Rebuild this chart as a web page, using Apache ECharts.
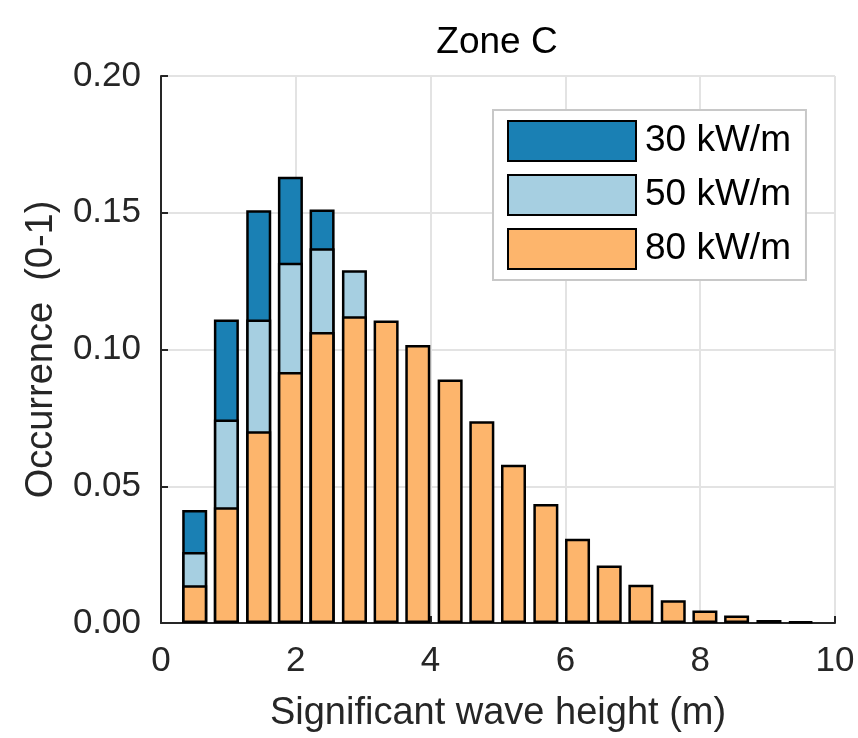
<!DOCTYPE html>
<html>
<head>
<meta charset="utf-8">
<script src="https://cdn.jsdelivr.net/npm/echarts@6/dist/echarts.min.js"></script>
<style>html,body{margin:0;padding:0;background:#fff}#c{width:858px;height:738px}</style>
</head>
<body>
<div id="c"></div>
<script>
// Bin centres of significant wave height (m)
var binCenters = [0.50, 0.97, 1.45, 1.92, 2.39, 2.87, 3.34, 3.81, 4.29, 4.76, 5.23, 5.71, 6.18, 6.65, 7.12, 7.60, 8.07, 8.54, 9.02, 9.49];
// Occurrence (0-1)
var occ30 = [0.0413, 0.1110, 0.1509, 0.1632, 0.1512, null, null, null, null, null, null, null, null, null, null, null, null, null, null, null];
var occ50 = [0.0260, 0.0744, 0.1110, 0.1317, 0.1370, 0.1290, null, null, null, null, null, null, null, null, null, null, null, null, null, null];
var occ80 = [0.0138, 0.0423, 0.0701, 0.0918, 0.1064, 0.1122, 0.1106, 0.1016, 0.0890, 0.0738, 0.0579, 0.0435, 0.0308, 0.0210, 0.0140, 0.0083, 0.0046, 0.0027, 0.0011, 0.0005];
var seriesNames = ['30 kW/m', '50 kW/m', '80 kW/m'];
var xTicks = [0, 2, 4, 6, 8, 10];
var yTicks = [0, 0.05, 0.10, 0.15, 0.20];

function pairs(vals) {
  return binCenters.map(function (x, i) { return [x, vals[i]]; });
}
var colors = ['#1a80b4', '#a6cfe1', '#fdb56c'];
var font = 'Liberation Sans, Arial, Helvetica, sans-serif';
var chart = echarts.init(document.getElementById('c'), null, {renderer: 'canvas'});
var barStyle = function (c) {
  return {color: c, borderColor: '#000', borderWidth: 2.5};
};
chart.setOption({
  animation: false,
  backgroundColor: '#fff',
  title: {
    text: 'Zone C', left: 497, top: 24, textAlign: 'center', padding: 0,
    textStyle: {fontFamily: font, fontSize: 37, fontWeight: 'normal', color: '#000'}
  },
  legend: {
    orient: 'vertical', left: 493, top: 110,
    itemWidth: 128, itemHeight: 40, itemGap: 12,
    padding: [10, 15, 10, 14],
    borderColor: '#c8c8c8', borderWidth: 2, backgroundColor: '#fff',
    data: seriesNames,
    textStyle: {fontFamily: font, fontSize: 37, color: '#000', padding: [0, 0, 0, 4]},
    icon: 'rect'
  },
  grid: {left: 161, right: 23, top: 76, bottom: 113, containLabel: false},
  xAxis: {
    type: 'value', min: xTicks[0], max: xTicks[xTicks.length - 1], interval: 2,
    name: 'Significant wave height (m)', nameLocation: 'middle', nameGap: 72,
    nameTextStyle: {fontFamily: font, fontSize: 38, color: '#262626'},
    axisLine: {show: true, onZero: false, lineStyle: {color: '#262626', width: 2}},
    axisTick: {show: true, inside: true, length: 7, lineStyle: {color: '#262626', width: 2}},
    axisLabel: {fontFamily: font, fontSize: 35, color: '#262626', margin: 21},
    splitLine: {show: true, lineStyle: {color: '#e3e3e3', width: 2}}
  },
  yAxis: {
    type: 'value', min: yTicks[0], max: yTicks[yTicks.length - 1], interval: 0.05,
    name: 'Occurrence  (0-1)', nameLocation: 'middle', nameGap: 100,
    nameTextStyle: {fontFamily: font, fontSize: 38, color: '#262626'},
    axisLine: {show: true, lineStyle: {color: '#262626', width: 2}},
    axisTick: {show: true, inside: true, length: 7, lineStyle: {color: '#262626', width: 2}},
    axisLabel: {fontFamily: font, fontSize: 35, color: '#262626', margin: 20,
      formatter: function (v) { return v.toFixed(2); }},
    splitLine: {show: true, lineStyle: {color: '#e3e3e3', width: 2}}
  },
  series: [
    {name: seriesNames[0], type: 'bar', data: pairs(occ30), barWidth: 25, barGap: '-100%', itemStyle: barStyle(colors[0])},
    {name: seriesNames[1], type: 'bar', data: pairs(occ50), barWidth: 25, barGap: '-100%', itemStyle: barStyle(colors[1])},
    {name: seriesNames[2], type: 'bar', data: pairs(occ80), barWidth: 25, barGap: '-100%', itemStyle: barStyle(colors[2])}
  ]
});
</script>
</body>
</html>
